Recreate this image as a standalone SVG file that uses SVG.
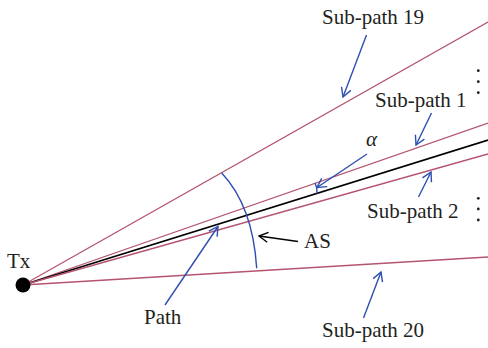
<svg xmlns="http://www.w3.org/2000/svg" width="488" height="348" viewBox="0 0 488 348">
<style>
.sub{stroke:#b4546e;stroke-width:1.3;fill:none}
.main{stroke:#000;stroke-width:1.7;fill:none}
.blue{stroke:#2c4fb0;stroke-width:1.4;fill:none}
.blk{stroke:#000;stroke-width:1.4;fill:none}
text{font-family:"Liberation Serif","Times New Roman",serif;font-size:21px;fill:#231f20}
</style>
<defs>
<marker id="ab" markerUnits="userSpaceOnUse" markerWidth="14" markerHeight="14" refX="11" refY="6" orient="auto">
<path d="M2,1 L11,6 L2,11" fill="none" stroke="#2c4fb0" stroke-width="1.4"/>
</marker>
<marker id="ak" markerUnits="userSpaceOnUse" markerWidth="14" markerHeight="14" refX="11" refY="6" orient="auto">
<path d="M2,1 L11,6 L2,11" fill="none" stroke="#000" stroke-width="1.4"/>
</marker>
</defs>
<g id="connectors">
<line id="subpath19" class="sub" x1="23" y1="285" x2="488" y2="22"/>
<line id="subpath1" class="sub" x1="23" y1="285" x2="488" y2="123"/>
<line id="path" class="main" x1="23" y1="285" x2="488" y2="140"/>
<line id="subpath2" class="sub" x1="23" y1="285" x2="488" y2="154"/>
<line id="subpath20" class="sub" x1="23" y1="285" x2="488" y2="257"/>
<path id="as-arc" class="blue" d="M221.7,173 Q252.8,206 256.7,268.3"/>
<path id="alpha-arc" class="blue" d="M315,183 Q317.5,188 317,193.5"/>
<line class="blue" x1="366.5" y1="35" x2="343" y2="97" marker-end="url(#ab)"/>
<line class="blue" x1="431.5" y1="113" x2="416" y2="145" marker-end="url(#ab)"/>
<line class="blue" x1="367" y1="154" x2="317" y2="187.5" marker-end="url(#ab)"/>
<line class="blue" x1="418.5" y1="197" x2="431" y2="172" marker-end="url(#ab)"/>
<line class="blue" x1="165" y1="305" x2="218" y2="226.5" marker-end="url(#ab)"/>
<line class="blue" x1="363.5" y1="318" x2="381" y2="272" marker-end="url(#ab)"/>
<line class="blk" x1="298" y1="241.5" x2="259" y2="236" marker-end="url(#ak)"/>
</g>
<g id="tx">
<circle cx="23" cy="285" r="7.5" fill="#000"/>
<text x="7" y="268">Tx</text>
</g>
<g id="labels">
<text x="322" y="24">Sub-path 19</text>
<text x="375" y="107">Sub-path 1</text>
<text x="366" y="146" font-style="italic">α</text>
<text x="367" y="218">Sub-path 2</text>
<text x="304" y="248">AS</text>
<text x="144" y="324">Path</text>
<text x="322" y="337">Sub-path 20</text>
</g>
<g id="dots" fill="#231f20">
<circle cx="478.3" cy="70.7" r="1.4"/>
<circle cx="478.3" cy="81.7" r="1.4"/>
<circle cx="478.3" cy="92.7" r="1.4"/>
<circle cx="478.3" cy="198.3" r="1.4"/>
<circle cx="478.3" cy="209" r="1.4"/>
<circle cx="478.3" cy="220" r="1.4"/>
</g>
</svg>
